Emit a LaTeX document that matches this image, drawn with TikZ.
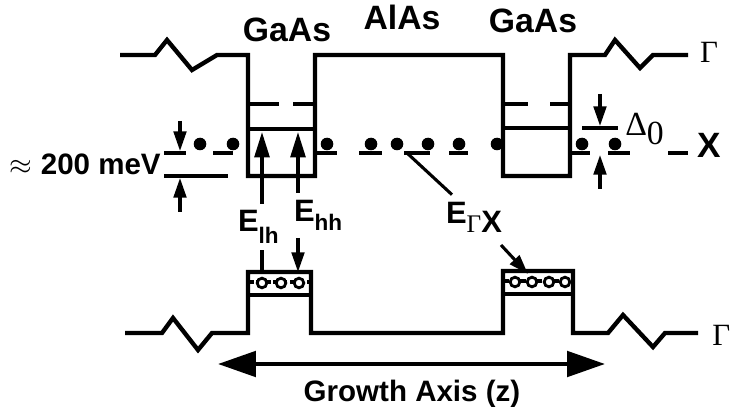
\documentclass[tikz,border=0pt]{standalone}
\usepackage{amsmath}
\usepackage{fontspec}
\setmainfont{Liberation Sans}
\newfontfamily\serifgreek{Liberation Serif}
\usepackage{tikz}
\usetikzlibrary{arrows.meta,positioning,calc}

\begin{document}
\begin{tikzpicture}[
  x=0.025cm, y=-0.025cm,
  band/.style={line width=3.1pt, line join=miter},
  thinarrow/.style={line width=2.2pt, -{Triangle[length=14pt,width=9pt]}},
  wellarrow/.style={line width=2.4pt, -{Triangle[length=18pt,width=10.5pt]}},
  axisarrow/.style={line width=3pt, {Triangle[length=27pt,width=18pt]}-{Triangle[length=27pt,width=18pt]}},
  layer/.style={font=\fontsize{24}{26}\selectfont\bfseries, inner sep=0pt},
  note/.style={font=\fontsize{21}{24}\selectfont\bfseries, inner sep=0pt},
  elabel/.style={font=\fontsize{22}{24}\selectfont\bfseries, inner sep=0pt, outer sep=5pt},
  greek/.style={font=\fontsize{22}{24}\selectfont\serifgreek, inner sep=0pt}
]
\useasboundingbox (0,0) rectangle (732,407);

% layer names
\node[layer, anchor=base] (gaasl) at (287,42) {GaAs};
\node[layer, anchor=base] (alas) at (402,30) {AlAs};
\node[layer, anchor=base] (gaasr) at (533,33) {GaAs};

% conduction band (Gamma)
\draw[band] (120,55) -- (155,55) -- (167,40) -- (192,70) -- (217,55) -- (248,55)
  -- (248,176) -- (315,176) -- (315,55) -- (503,55) -- (503,176) -- (570,176)
  -- (570,55) -- (605,55) -- (615,40) -- (640,68) -- (653,55) -- (688,55);
\draw[band] (248,129) -- (315,129) (503,128) -- (570,128);
\draw[band] (248,104) -- (279,104) (293,104) -- (315,104)
  (503,104) -- (528,104) (550,104) -- (570,104);

% X states
\draw[band] (164,153) -- (186,153) (213,153) -- (233,153) (316,153) -- (337,153)
  (359,153) -- (382,153) (404,153) -- (430,153) (449,153) -- (468,153)
  (571,153) -- (590,153) (608,153) -- (630,153) (668,153) -- (688,153);
\foreach \x in {200,233,327,371,397,428,459,497,582,615}
  \fill (\x,144) circle (6.3);

\node[greek, anchor=base] (gtop) at (709,63) {Γ};
\node[layer, font=\fontsize{25}{27}\selectfont\bfseries, anchor=base] (xlbl) at (709,158) {X};

% approx 200 meV
\node[note, anchor=base east] (mev) at (161,175) {$\approx$ 200 meV};
\draw[band] (164,176) -- (228,176);
\coordinate (mevtop) at (180,151);
\coordinate (mevbot) at (180,178);
\draw[thinarrow] (180,121) -- (mevtop);
\draw[thinarrow] (180,212) -- (mevbot);

% Delta_0
\draw[band] (582,128) -- (618,128);
\coordinate (dtop) at (600,126);
\coordinate (dbot) at (600,155);
\draw[thinarrow] (600,94) -- (dtop);
\draw[thinarrow] (600,189) -- (dbot);
\node[greek, font=\fontsize{24}{26}\selectfont\serifgreek, anchor=base west] (delta) at (625,136) {Δ\raisebox{-6pt}{0}};

% transition energies
\node[elabel, anchor=base west] (elh) at (231,232)
  {E\raisebox{-8pt}{\fontsize{16}{18}\selectfont lh}};
\node[elabel, anchor=base west] (ehh) at (287,221)
  {E\raisebox{-7pt}{\fontsize{16}{18}\selectfont hh}};
\node[elabel, anchor=base west] (egx) at (439,223)
  {E\raisebox{-7pt}{{\fontsize{18}{20}\serifgreek\mdseries Γ}X}};

\coordinate (lhup) at (262,132);
\coordinate (hhup) at (298,132);
\coordinate (lhdown) at (262,272);
\coordinate (hhdown) at (298,272);
\draw[wellarrow] (elh.north -| lhup) -- (lhup);
\draw[wellarrow] (ehh.north -| hhup) -- (hhup);
\draw[line width=2.2pt] (elh.south -| lhdown) -- (lhdown);
\draw[thinarrow] (ehh.south -| hhdown) -- (hhdown);

\coordinate (gxlevel) at (407,153);
\coordinate (gxfoot) at (501,245);
\coordinate (gxtip) at (528,274);
\draw[line width=2.2pt] (egx.north -| 452,0) -- (gxlevel);
\draw[thinarrow] (gxfoot) -- (gxtip);

% valence band (Gamma)
\draw[band] (125,333) -- (162,333) -- (173,318) -- (198,350) -- (212,333) -- (248,333)
  -- (248,272) -- (311,272) -- (311,333) -- (503,333) -- (503,271) -- (573,271)
  -- (573,333) -- (608,333) -- (623,315) -- (653,347) -- (665,333) -- (698,333);
\draw[band] (248,295) -- (311,295) (503,294) -- (573,294);
\draw[line width=2.2pt, dash pattern=on 4pt off 2pt] (248,282) -- (311,282) (503,281) -- (573,281);
\foreach \x in {262,281,299}
  \draw[line width=2pt, fill=white] (\x,283) circle (4.8);
\foreach \x in {515,532,549,565}
  \draw[line width=2pt, fill=white] (\x,282) circle (4.8);
\node[greek, anchor=base west] (gbot) at (712,345) {Γ};

% growth axis
\coordinate (axl) at (218,364);
\coordinate (axr) at (605,364);
\draw[axisarrow] (axl) -- (axr);
\node[note, anchor=base] (axis) at (412,401) {Growth Axis (z)};
\end{tikzpicture}
\end{document}
